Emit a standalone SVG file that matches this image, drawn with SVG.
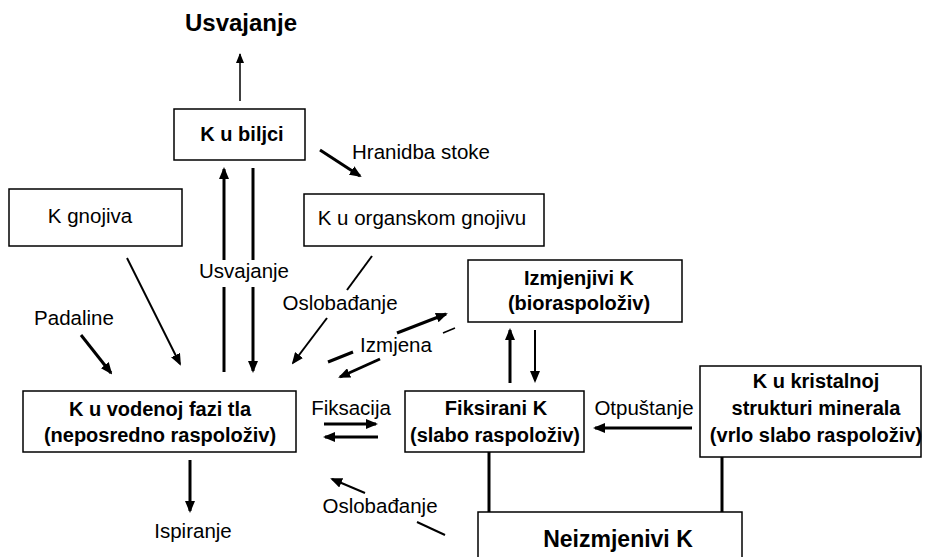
<svg xmlns="http://www.w3.org/2000/svg" width="937" height="557" viewBox="0 0 937 557">
<defs>
<style>
.box{fill:#fff;stroke:#000;stroke-width:1.5}
.b{font-family:"Liberation Sans",Arial,sans-serif;font-weight:bold;font-size:20px;fill:#000;text-anchor:middle}
.r{font-family:"Liberation Sans",Arial,sans-serif;font-size:20.5px;fill:#000;text-anchor:middle}
.t3{stroke:#000;stroke-width:3;fill:none}
.t2{stroke:#000;stroke-width:2;fill:none}
.t1{stroke:#000;stroke-width:1.5;fill:none}
</style>
<marker id="ah" viewBox="0 0 12 10" refX="10" refY="5" markerWidth="12" markerHeight="10" markerUnits="userSpaceOnUse" orient="auto"><path d="M0,0 L12,5 L0,10 z" fill="#000"/></marker>
<marker id="as" viewBox="0 0 10 8" refX="9" refY="4" markerWidth="10" markerHeight="8" markerUnits="userSpaceOnUse" orient="auto"><path d="M0,0 L10,4 L0,8 z" fill="#000"/></marker>
</defs>
<rect width="937" height="557" fill="#fff"/>
<g id="connectors">
<line class="t1" x1="240" y1="101" x2="240" y2="54" marker-end="url(#as)"/>
<line class="t3" x1="224" y1="372" x2="224" y2="287"/>
<line class="t3" x1="224" y1="260" x2="224" y2="169" marker-end="url(#ah)"/>
<line class="t3" x1="253" y1="168" x2="253" y2="260"/>
<line class="t3" x1="253" y1="287" x2="253" y2="371" marker-end="url(#ah)"/>
<line class="t3" x1="320" y1="150" x2="360" y2="176" marker-end="url(#ah)"/>
<line class="t2" x1="127" y1="258" x2="180" y2="364" marker-end="url(#ah)"/>
<line class="t3" x1="81" y1="335" x2="111" y2="373" marker-end="url(#ah)"/>
<line class="t2" x1="372" y1="256" x2="347" y2="290"/>
<line class="t2" x1="327" y1="318" x2="293" y2="363" marker-end="url(#ah)"/>
<line class="t3" x1="328" y1="362" x2="353" y2="352"/>
<line class="t3" x1="397" y1="333" x2="446" y2="314" marker-end="url(#ah)"/>
<line class="t1" x1="455" y1="328" x2="443" y2="333"/>
<line class="t3" x1="380" y1="359" x2="340" y2="377" marker-end="url(#ah)"/>
<line class="t3" x1="324" y1="424" x2="376" y2="424" marker-end="url(#ah)"/>
<line class="t3" x1="378" y1="437" x2="325" y2="437" marker-end="url(#ah)"/>
<line class="t3" x1="190" y1="460" x2="190" y2="511" marker-end="url(#ah)"/>
<line class="t2" x1="445" y1="535" x2="417" y2="522"/>
<line class="t2" x1="365" y1="493" x2="332" y2="479" marker-end="url(#ah)"/>
<line class="t3" x1="510" y1="383" x2="510" y2="330" marker-end="url(#ah)"/>
<line class="t2" x1="535" y1="330" x2="535" y2="381" marker-end="url(#ah)"/>
<line class="t3" x1="692" y1="428" x2="595" y2="428" marker-end="url(#ah)"/>
<line class="t3" x1="489" y1="452" x2="489" y2="512"/>
<line class="t3" x1="722" y1="457" x2="722" y2="512"/>
<text class="b" x="241" y="31" style="font-size:24px">Usvajanje</text>
<text class="r" x="421" y="159">Hranidba stoke</text>
<text class="r" x="244" y="278">Usvajanje</text>
<text class="r" x="340" y="310">Oslobađanje</text>
<text class="r" x="74" y="325">Padaline</text>
<text class="r" x="396" y="352">Izmjena</text>
<text class="r" x="351" y="415">Fiksacija</text>
<text class="r" x="193" y="538">Ispiranje</text>
<text class="r" x="380" y="513">Oslobađanje</text>
<text class="r" x="644" y="415">Otpuštanje</text>
</g>
<g id="n-biljci"><rect class="box" x="174" y="109" width="131" height="51"/><text class="b" x="242" y="141">K u biljci</text></g>
<g id="n-gnojiva"><rect class="box" x="9" y="189" width="173" height="57"/><text class="r" x="90" y="223">K gnojiva</text></g>
<g id="n-organski"><rect class="box" x="304" y="194" width="240" height="52"/><text class="r" x="422" y="225">K u organskom gnojivu</text></g>
<g id="n-izmjenjivi"><rect class="box" x="468" y="260" width="214" height="62"/><text class="b" x="579" y="285">Izmjenjivi K</text><text class="b" x="579" y="310">(bioraspoloživ)</text></g>
<g id="n-vodena"><rect class="box" x="23" y="391" width="273" height="61"/><text class="b" x="160" y="416">K u vodenoj fazi tla</text><text class="b" x="160" y="442">(neposredno raspoloživ)</text></g>
<g id="n-fiksirani"><rect class="box" x="405" y="391" width="179" height="61"/><text class="b" x="496" y="415">Fiksirani K</text><text class="b" x="495" y="442">(slabo raspoloživ)</text></g>
<g id="n-kristalni"><rect class="box" x="700" y="366" width="221" height="91"/><text class="b" x="816" y="388">K u kristalnoj</text><text class="b" x="816" y="415">strukturi minerala</text><text class="b" x="816" y="442">(vrlo slabo raspoloživ)</text></g>
<g id="n-neizmjenivi"><rect class="box" x="478" y="512" width="264" height="60"/><text class="b" x="618" y="547" style="font-size:23px">Neizmjenivi K</text></g>
</svg>
